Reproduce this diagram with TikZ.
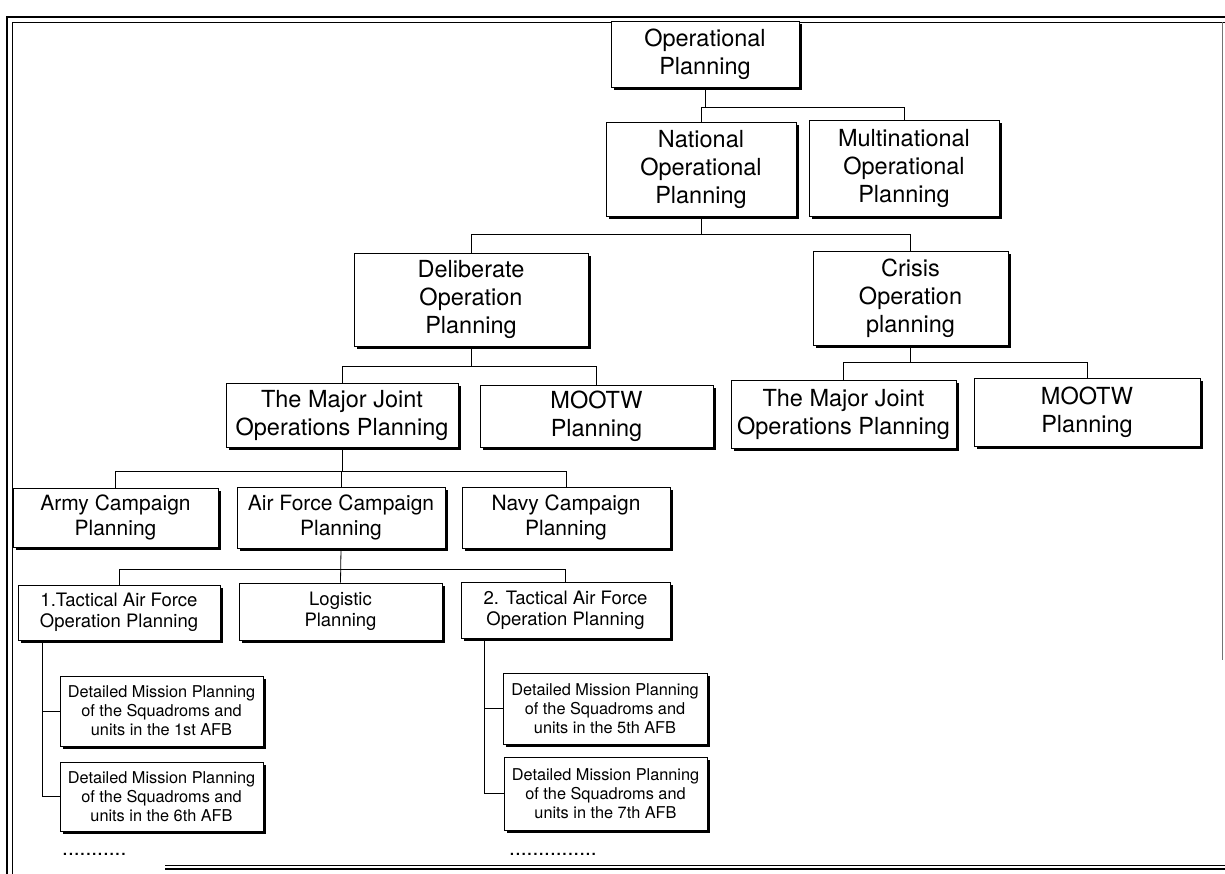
\documentclass[tikz,border=0pt]{standalone}
\usepackage{fontspec}
\setmainfont{TeX Gyre Heros}
\usetikzlibrary{shadows,calc}
\begin{document}
\begin{tikzpicture}[x=1pt,y=-1pt,
  box/.style={draw=black, line width=0.9pt, fill=white, align=center, inner sep=0pt,
    drop shadow={shadow xshift=2.8pt, shadow yshift=-2.8pt, fill=black, opacity=1}},
  lvA/.style={box, font=\fontsize{23.5}{28}\selectfont},
  lvB/.style={box, font=\fontsize{21}{25}\selectfont},
  lvC/.style={box, font=\fontsize{18.5}{21}\selectfont},
  lvD/.style={box, font=\fontsize{16.3}{19}\selectfont},
  link/.style={line width=0.8pt},
  frameouter/.style={line width=2.4pt},
  frameinner/.style={line width=0.9pt},
  dotrow/.style={anchor=base west, inner sep=0pt, font=\fontsize{21}{21}\selectfont},
]
\useasboundingbox (0,0) rectangle (1225,874);

% page frame
\draw[frameouter] (7,874) -- (7,17) -- (1225,17);
\draw[frameinner] (12,874) -- (12,22) -- (1225,22);
\draw[frameinner, black!55, line width=0.7pt] (1222,22) -- (1222,660);
\draw[frameouter] (165,869) -- (1225,869);
\draw[frameinner] (165,865) -- (1225,865);

% planning levels
\node[lvA, minimum width=188pt, minimum height=66pt] (op) at (705,54) {Operational\\Planning};
\node[lvA, minimum width=190pt, minimum height=94pt] (nat) at (701,169) {National\\Operational\\Planning};
\node[lvA, minimum width=190pt, minimum height=96pt] (mult) at (904,168) {Multinational\\Operational\\Planning};
\node[lvA, minimum width=234pt, minimum height=93pt] (delib) at (471,299.5) {Deliberate\\Operation\\Planning};
\node[lvA, minimum width=195pt, minimum height=94pt] (crisis) at (910.5,298) {Crisis\\Operation\\planning};
\node[lvA, minimum width=232pt, minimum height=64pt] (mjA) at (342,415) {The Major Joint\\Operations Planning};
\node[lvA, minimum width=233pt, minimum height=62pt] (mootwA) at (596.5,416) {MOOTW\\Planning};
\node[lvA, minimum width=225pt, minimum height=68pt] (mjB) at (843.5,414) {The Major Joint\\Operations Planning};
\node[lvA, minimum width=226pt, minimum height=68pt] (mootwB) at (1087,412) {MOOTW\\Planning};
\node[lvB, minimum width=205pt, minimum height=59pt] (army) at (115.5,517.5) {Army Campaign\\Planning};
\node[lvB, minimum width=208pt, minimum height=61pt] (af) at (341,517.5) {Air Force Campaign\\Planning};
\node[lvB, minimum width=208pt, minimum height=61pt] (navy) at (566,517.5) {Navy Campaign\\Planning};
\node[lvC, minimum width=202pt, minimum height=55pt] (tacA) at (119,612.5) {1.Tactical Air Force\\Operation Planning};
\node[lvC, minimum width=203pt, minimum height=57pt] (logi) at (340.5,611.5) {Logistic\\Planning};
\node[lvC, minimum width=209pt, minimum height=56pt] (tacB) at (565.5,610) {2. Tactical Air Force\\Operation Planning};
\node[lvD, minimum width=203pt, minimum height=70pt] (dA) at (161.5,711) {Detailed Mission Planning\\of the Squadroms and\\units in the 1st AFB};
\node[lvD, minimum width=203pt, minimum height=69pt] (dB) at (161.5,796.5) {Detailed Mission Planning\\of the Squadroms and\\units in the 6th AFB};
\node[lvD, minimum width=204pt, minimum height=71pt] (dC) at (605,708.5) {Detailed Mission Planning\\of the Squadroms and\\units in the 5th AFB};
\node[lvD, minimum width=203pt, minimum height=73pt] (dD) at (605.5,793.5) {Detailed Mission Planning\\of the Squadroms and\\units in the 7th AFB};

\node[dotrow] (moreA) at (62,855) {...........};
\node[dotrow] (moreB) at (509,855) {...............};

% tree connectors
\coordinate (busA) at (0,107);
\coordinate (busB) at (0,234);
\coordinate (busC) at (0,366);
\coordinate (busD) at (0,362);
\coordinate (busE) at (0,471);
\coordinate (busF) at (0,569);

\draw[link] (op.south) -- (op.south |- busA);
\draw[link] (nat.north) -- (nat.north |- busA) -- (mult.north |- busA) -- (mult.north);

\draw[link] (nat.south) -- (nat.south |- busB);
\draw[link] (delib.north) -- (delib.north |- busB) -- (crisis.north |- busB) -- (crisis.north);

\draw[link] (delib.south) -- (delib.south |- busC);
\draw[link] (mjA.north) -- (mjA.north |- busC) -- (mootwA.north |- busC) -- (mootwA.north);

\draw[link] (crisis.south) -- (crisis.south |- busD);
\draw[link] (mjB.north) -- (mjB.north |- busD) -- (mootwB.north |- busD) -- (mootwB.north);

\draw[link] (mjA.south) -- (mjA.south |- busE);
\draw[link] (army.north) -- (army.north |- busE) -- (navy.north |- busE) -- (navy.north);
\draw[link] (af.north) -- (af.north |- busE);

\draw[link] (af.south) -- (logi.north);
\draw[link] (tacA.north) -- (tacA.north |- busF) -- (tacB.north |- busF) -- (tacB.north);

\coordinate (stemA) at ($(tacA.south west)+(25,0)$);
\coordinate (stemB) at ($(tacB.south west)+(24,0)$);
\draw[link] (stemA) |- (dB.west);
\draw[link] (stemA |- dA.west) -- (dA.west);
\draw[link] (stemB) |- (dD.west);
\draw[link] (stemB |- dC.west) -- (dC.west);
\end{tikzpicture}
\end{document}
